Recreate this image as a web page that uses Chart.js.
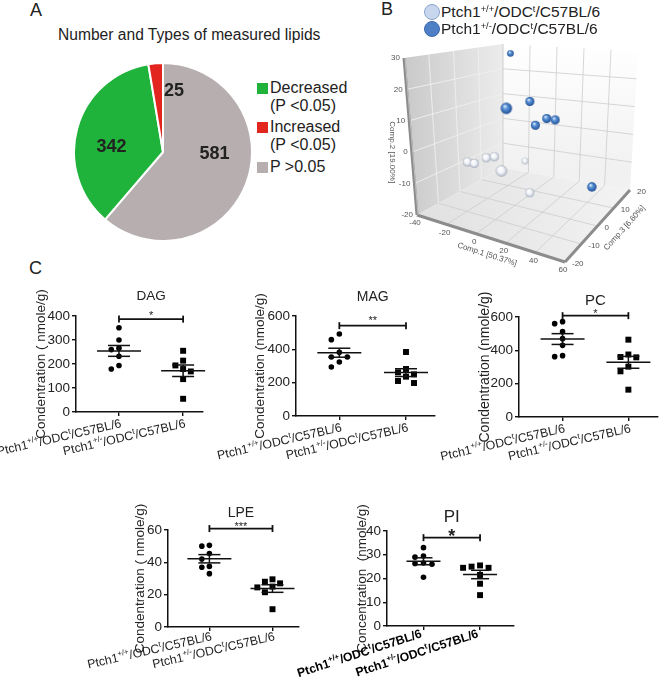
<!DOCTYPE html>
<html lang="en">
<head>
<meta charset="UTF-8">
<title>Lipid profiling figure</title>
<script src="https://cdn.jsdelivr.net/npm/chart.js"></script>
<style>
  body { margin: 0; background: #fff; }
  #fig { position: relative; width: 660px; height: 682px; overflow: hidden; background: #fff;
         font-family: "Liberation Sans", Arial, sans-serif; color: #222; }
  #fig canvas, #fig .t, #fig .sq { position: absolute; }
  #fig .t { white-space: nowrap; line-height: 1; }
  #fig sup { font-size: 60%; vertical-align: 0; position: relative; top: -0.55em; }
</style>
</head>
<body>
<div id="fig"></div>
<script>
// ---- A: number and types of measured lipids
const pieLabels = ['P >0.05', 'Decreased (P <0.05)', 'Increased (P <0.05)'];
const pieCounts = [581, 342, 25];
const pieColors = ['#b7afaf', '#20b33b', '#e2261f'];

// ---- B: PCA scores
const groups = ['Ptch1^{+/+}/ODC^{t}/C57BL/6', 'Ptch1^{+/-}/ODC^{t}/C57BL/6'];
const wtComp1 = [-35, -30, -21, -15, 7, -10, 11];
const wtComp2 = [-9, -9, -6, -5, -3, -11, -15];
const wtComp3 = [0, 0, 0, 0, -12, 12, 0];
const hetComp1 = [-21, 11, 11, 15, 23, 29, 59];
const hetComp2 = [30, 17, 18, 9, 12, 12, -7];
const hetComp3 = [12, 0, -12, 0, 0, 0, -2];
const comp1Ticks = [-40, -20, 0, 20, 40, 60];
const comp2Ticks = [-20, -10, 0, 10, 20, 30];
const comp3Ticks = [-20, -10, 0, 10, 20];

// ---- C: lipid concentrations (nmole/g)
const dagWT = [351, 300, 266, 260, 232, 194, 179];
const dagHet = [255, 214, 194, 179, 169, 137, 55];
const magWT = [492, 458, 382, 354, 354, 324, 294];
const magHet = [384, 282, 262, 250, 236, 210, 198];
const pcWT = [572, 560, 512, 470, 430, 368, 362];
const pcHet = [464, 375, 360, 358, 302, 274, 164];
const lpeWT = [50.5, 50, 45.5, 42, 37.5, 37, 33];
const lpeHet = [29.5, 28, 27, 25, 24.5, 21.5, 11];
const piWT = [33, 29.5, 29, 26.5, 26.3, 26, 20.5];
const piHet = [25.5, 25, 24.5, 24.5, 21.5, 17.8, 13];

const FONT = '"Liberation Sans", Arial, sans-serif';
const fig = document.getElementById('fig');

function supHtml(s) { return s.replace(/\^\{([^}]*)\}/g, '<sup>$1</sup>'); }
function parts(s) {
  return s.split(/(\^\{[^}]*\})/).filter(p => p).map(p =>
    p[0] === '^' ? { t: p.slice(2, -1), sup: true } : { t: p, sup: false });
}
function addText(html, left, top, size, css) {
  const d = document.createElement('div');
  d.className = 't';
  d.innerHTML = html;
  d.style.cssText = `left:${left}px;top:${top}px;font-size:${size}px;` + (css || '');
  fig.appendChild(d);
  return d;
}
function addCanvas(left, top, w, h) {
  const c = document.createElement('canvas');
  c.width = Math.round(w); c.height = Math.round(h);
  c.style.left = Math.round(left) + 'px'; c.style.top = Math.round(top) + 'px';
  fig.appendChild(c);
  return c;
}

// panel letters
addText('A', 30, 1, 18);
addText('B', 381, 0, 18);
addText('C', 29, 259, 18);

// ================= Panel A (pie) =================
addText('Number and Types of measured lipids', 58, 27, 15.6);
const legendOrder = [1, 2, 0];
const legendText = ['P &gt;0.05', 'Decreased<br>(P &lt;0.05)', 'Increased<br>(P &lt;0.05)'];
const legendTop = [79, 118, 158];
legendOrder.forEach((k, i) => {
  const sq = document.createElement('div');
  sq.className = 'sq';
  sq.style.cssText = `left:257px;top:${legendTop[i] + 4}px;width:11px;height:11px;background:${pieColors[k]}`;
  fig.appendChild(sq);
  addText(legendText[k], 270, legendTop[i], 16, 'line-height:18px');
});

const pieCv = addCanvas(71, 60, 184, 184);
new Chart(pieCv, {
  type: 'pie',
  data: {
    labels: pieLabels,
    datasets: [{ data: pieCounts, backgroundColor: pieColors, borderColor: '#fff', borderWidth: 2 }]
  },
  options: {
    responsive: false, animation: false, events: [],
    layout: { padding: 2 },
    plugins: { legend: { display: false }, tooltip: { enabled: false } }
  },
  plugins: [{
    id: 'pieNumbers',
    afterDatasetsDraw(chart) {
      const ctx = chart.ctx;
      ctx.save();
      ctx.font = `bold 18px ${FONT}`;
      ctx.fillStyle = '#222';
      ctx.textBaseline = 'middle';
      chart.getDatasetMeta(0).data.forEach((arc, i) => {
        const p = arc.getProps(['x', 'y', 'startAngle', 'endAngle', 'outerRadius'], true);
        const narrow = p.endAngle - p.startAngle < 0.3;
        // big slices: label a bit toward the slice start, so it sits in the open part
        const ang = narrow ? p.endAngle : p.startAngle + (p.endAngle - p.startAngle) * 0.42;
        const r = p.outerRadius * (narrow ? 0.68 : 0.58);
        ctx.textAlign = narrow ? 'left' : 'center';
        ctx.fillText(String(pieCounts[i]), p.x + Math.cos(ang) * r + (narrow ? 1 : 0), p.y + Math.sin(ang) * r);
      });
      ctx.restore();
    }
  }]
});

// ================= Panel B (3D PCA) =================
const pcaBox = { left: 380, top: 35, w: 280, h: 245 };
// screen corners of the box, key = [comp1 max?][comp2 max?][comp3 max?]
const boxCorners = {
  '000': [37, 180], '100': [185, 227], '101': [250, 155], '001': [123, 133],
  '010': [24, 23], '110': [190, 53], '111': [258, 16], '011': [123, 9]
};
const r1 = [comp1Ticks[0], comp1Ticks[comp1Ticks.length - 1]];
const r2 = [comp2Ticks[0], comp2Ticks[comp2Ticks.length - 1]];
const r3 = [comp3Ticks[0], comp3Ticks[comp3Ticks.length - 1]];

function proj(c1, c2, c3) {
  const u = (c1 - r1[0]) / (r1[1] - r1[0]);
  const v = (c2 - r2[0]) / (r2[1] - r2[0]);
  const w = (c3 - r3[0]) / (r3[1] - r3[0]);
  let x = 0, y = 0;
  for (const a of [0, 1]) for (const b of [0, 1]) for (const c of [0, 1]) {
    const k = (a ? u : 1 - u) * (b ? v : 1 - v) * (c ? w : 1 - w);
    const p = boxCorners['' + a + b + c];
    x += k * p[0]; y += k * p[1];
  }
  return { x, y };
}

const sphereCache = {};
function sphere(dark, r) {
  const key = dark + ':' + r.toFixed(1);
  if (sphereCache[key]) return sphereCache[key];
  const s = Math.ceil(r * 2 + 2);
  const c = document.createElement('canvas');
  c.width = c.height = s;
  const g = c.getContext('2d');
  const m = s / 2;
  const grad = g.createRadialGradient(m - r * 0.3, m - r * 0.4, r * 0.1, m, m, r);
  if (dark) {
    grad.addColorStop(0, '#d6e6fb');
    grad.addColorStop(0.35, '#5d95d8');
    grad.addColorStop(0.85, '#2b60aa');
    grad.addColorStop(1, '#1c457f');
  } else {
    grad.addColorStop(0, '#ffffff');
    grad.addColorStop(0.55, '#eef1f6');
    grad.addColorStop(0.9, '#b8c0cc');
    grad.addColorStop(1, '#959fad');
  }
  g.fillStyle = grad;
  g.beginPath(); g.arc(m, m, r, 0, Math.PI * 2); g.fill();
  sphereCache[key] = c;
  return c;
}
const depthRadius = c3 => 4.5 - c3 * 0.1;

function pcaPoints(c1, c2, c3) {
  return c1.map((v, i) => Object.assign(proj(v, c2[i], c3[i]), { d: c3[i] }));
}

function line(ctx, a, b) { ctx.beginPath(); ctx.moveTo(a.x, a.y); ctx.lineTo(b.x, b.y); ctx.stroke(); }
function quad(ctx, pts, fill) {
  ctx.beginPath();
  pts.forEach((p, i) => i ? ctx.lineTo(p.x, p.y) : ctx.moveTo(p.x, p.y));
  ctx.closePath(); ctx.fillStyle = fill; ctx.fill();
}

const pcaCv = addCanvas(pcaBox.left, pcaBox.top, pcaBox.w, pcaBox.h);
new Chart(pcaCv, {
  type: 'scatter',
  data: {
    datasets: [
      { data: pcaPoints(hetComp1, hetComp2, hetComp3),
        pointStyle: c => sphere(true, depthRadius(c.raw.d)) },
      { data: pcaPoints(wtComp1, wtComp2, wtComp3),
        pointStyle: c => sphere(false, depthRadius(c.raw.d)) }
    ]
  },
  options: {
    responsive: false, animation: false, events: [],
    layout: { padding: 0 },
    plugins: { legend: { display: false }, tooltip: { enabled: false } },
    scales: {
      x: { type: 'linear', min: 0, max: pcaBox.w, display: false },
      y: { type: 'linear', min: 0, max: pcaBox.h, reverse: true, display: false }
    }
  },
  plugins: [{
    id: 'box3d',
    beforeDatasetsDraw(chart) {
      const ctx = chart.ctx;
      ctx.save();
      // walls
      const A = proj(r1[0], r2[0], r3[0]), B = proj(r1[1], r2[0], r3[0]);
      const C = proj(r1[1], r2[0], r3[1]), D = proj(r1[0], r2[0], r3[1]);
      const E = proj(r1[0], r2[1], r3[0]), F = proj(r1[0], r2[1], r3[1]);
      const G = proj(r1[1], r2[1], r3[1]);
      let gr = ctx.createLinearGradient(E.x, 0, F.x, 0);
      gr.addColorStop(0, '#c9c9c9'); gr.addColorStop(1, '#ececec');
      quad(ctx, [A, D, F, E], gr);
      gr = ctx.createLinearGradient(0, F.y, 0, D.y);
      gr.addColorStop(0, '#ffffff'); gr.addColorStop(1, '#f1f1f1');
      quad(ctx, [D, C, G, F], gr);
      gr = ctx.createLinearGradient(A.x, A.y, C.x, D.y);
      gr.addColorStop(0, '#e0e0e0'); gr.addColorStop(1, '#f4f4f4');
      quad(ctx, [A, B, C, D], gr);
      // grids
      ctx.lineWidth = 1;
      ctx.strokeStyle = 'rgba(240,240,240,0.9)';
      comp2Ticks.slice(1, -1).forEach(t => line(ctx, proj(r1[0], t, r3[0]), proj(r1[0], t, r3[1])));
      comp3Ticks.slice(1, -1).forEach(t => line(ctx, proj(r1[0], r2[0], t), proj(r1[0], r2[1], t)));
      ctx.strokeStyle = 'rgba(205,205,205,0.8)';
      comp2Ticks.slice(1, -1).forEach(t => line(ctx, proj(r1[0], t, r3[1]), proj(r1[1], t, r3[1])));
      comp1Ticks.slice(1, -1).forEach(t => line(ctx, proj(t, r2[0], r3[1]), proj(t, r2[1], r3[1])));
      comp1Ticks.slice(1, -1).forEach(t => line(ctx, proj(t, r2[0], r3[0]), proj(t, r2[0], r3[1])));
      comp3Ticks.slice(1, -1).forEach(t => line(ctx, proj(r1[0], r2[0], t), proj(r1[1], r2[0], t)));
      ctx.strokeStyle = '#cfcfcf';
      line(ctx, D, F);
      // axis bars
      ctx.strokeStyle = '#8c8c8c'; ctx.lineWidth = 3;
      line(ctx, A, E); line(ctx, A, B); line(ctx, B, C);
      ctx.strokeStyle = '#bdbdbd'; ctx.lineWidth = 1;
      line(ctx, { x: A.x + 1, y: A.y }, { x: E.x + 1, y: E.y });
      // tick labels
      ctx.font = `8px ${FONT}`;
      ctx.fillStyle = '#555';
      ctx.textBaseline = 'middle';
      ctx.textAlign = 'right';
      comp2Ticks.forEach(t => { const p = proj(r1[0], t, r3[0]); ctx.fillText(String(t), p.x - 4, p.y); });
      ctx.textAlign = 'center';
      comp1Ticks.forEach(t => { const p = proj(t, r2[0], r3[0]); ctx.fillText(String(t), p.x - 2, p.y + 8); });
      ctx.textAlign = 'left';
      comp3Ticks.forEach(t => { const p = proj(r1[1], r2[0], t); ctx.fillText(String(t), p.x + 7, p.y + 2); });
      // axis titles
      const axTitle = (txt, p, ang) => {
        ctx.save(); ctx.translate(p.x, p.y); ctx.rotate(ang);
        ctx.textAlign = 'center'; ctx.fillText(txt, 0, 0); ctx.restore();
      };
      const m2 = proj(r1[0], (r2[0] + r2[1]) / 2 - 5, r3[0]);
      axTitle('Comp.2 [19.00%]', { x: m2.x - 20, y: m2.y }, Math.PI / 2);
      const m1 = proj((r1[0] + r1[1]) / 2, r2[0], r3[0]);
      axTitle('Comp.1 [50.37%]', { x: m1.x - 4, y: m1.y + 16 }, Math.atan2(B.y - A.y, B.x - A.x));
      const m3 = proj(r1[1], r2[0], (r3[0] + r3[1]) / 2);
      axTitle('Comp.3 [6.60%]', { x: m3.x + 27, y: m3.y + 2 }, Math.atan2(C.y - B.y, C.x - B.x));
      ctx.restore();
    }
  }]
});

// B legend
[['#c9d7ee', '#8aa4cf'], ['#4f80c6', '#3a68ad']].forEach((c, i) => {
  const sq = document.createElement('div');
  sq.className = 'sq';
  sq.style.cssText = `left:424px;top:${4 + i * 17}px;width:14px;height:14px;border-radius:50%;background:${c[0]};border:1px solid ${c[1]}`;
  fig.appendChild(sq);
  addText(supHtml(groups[i]), 441, 4 + i * 17, 15.5);
});

// ================= Panel C (dot plots) =================
function mean(a) { return a.reduce((s, v) => s + v, 0) / a.length; }
function sem(a) {
  const m = mean(a);
  return Math.sqrt(a.reduce((s, v) => s + (v - m) * (v - m), 0) / (a.length - 1) / a.length);
}
// simple beeswarm: offsets in units of one point width
function swarm(vals, yTol) {
  const placed = [];
  return vals.map(v => {
    for (const k of [0, -1, 1, -2, 2, -3, 3]) {
      if (placed.every(p => (p.k - k) ** 2 + ((p.v - v) / yTol) ** 2 >= 1)) {
        placed.push({ k, v });
        return k;
      }
    }
    return 0;
  });
}

function richText(ctx, str, x, y, ang, size, weight, color) {
  const ps = parts(str);
  const base = `${weight} ${size}px ${FONT}`;
  const small = `${weight} ${Math.round(size * 0.62)}px ${FONT}`;
  let w = 0;
  ps.forEach(p => { ctx.font = p.sup ? small : base; w += ctx.measureText(p.t).width; });
  ctx.save();
  ctx.translate(x, y); ctx.rotate(ang);
  ctx.fillStyle = color; ctx.textAlign = 'left'; ctx.textBaseline = 'alphabetic';
  let cx = -w;
  ps.forEach(p => {
    ctx.font = p.sup ? small : base;
    ctx.fillText(p.t, cx, p.sup ? -size * 0.42 : 0);
    cx += ctx.measureText(p.t).width;
  });
  ctx.restore();
}

const dotSpecs = [
  { wt: dagWT, het: dagHet, title: 'DAG', titleSize: 13.5, titleUp: 20, yMax: 400, yStep: 100,
    area: [76, 316, 203, 412], xr: [0.33, 2.31], bracket: 387, stars: '*', starSize: 11, starBold: false, starDy: 0,
    yTitle: 'Condentration ( nmole/g)', yTitleOff: 35, yTitleSize: 13.5, meanHalf: 22, semHalf: 11, jit: 0.12,
    lab: [3, 15], labAng: -13, labSize: 12.3, labBold: false },
  { wt: magWT, het: magHet, title: 'MAG', titleSize: 14, titleUp: 19, yMax: 600, yStep: 200,
    area: [296, 316, 435, 416], xr: [0.35, 2.435], bracket: 542, stars: '**', starSize: 11, starBold: false, starDy: -2,
    yTitle: 'Condentration (nmole/g)', yTitleOff: 36, yTitleSize: 13.5, meanHalf: 22, semHalf: 11, jit: 0.12,
    lab: [3, 15], labAng: -13, labSize: 12.3, labBold: false },
  { wt: pcWT, het: pcHet, title: 'PC', titleSize: 15, titleUp: 16, yMax: 600, yStep: 200,
    area: [519, 317, 658, 417], xr: [0.338, 2.45], bracket: 608, stars: '*', starSize: 11, starBold: false, starDy: 1,
    yTitle: 'Condentration (nmole/g)', yTitleOff: 34, yTitleSize: 14, meanHalf: 22, semHalf: 11, jit: 0.12,
    lab: [3, 15], labAng: -13, labSize: 12.3, labBold: false },
  { wt: lpeWT, het: lpeHet, title: 'LPE', titleSize: 14, titleUp: 17, yMax: 60, yStep: 20,
    area: [168, 530, 299, 627], xr: [0.344, 2.42], bracket: 60.9, stars: '***', starSize: 11, starBold: false, starDy: 1,
    yTitle: 'Condentration ( nmole/g)', yTitleOff: 28, yTitleSize: 13.5, meanHalf: 22, semHalf: 11, jit: 0.12,
    lab: [3, 13], labAng: -13, labSize: 12.3, labBold: false },
  { wt: piWT, het: piHet, title: 'PI', titleSize: 17, titleUp: 14, yMax: 40, yStep: 10,
    area: [387, 531, 514, 626], xr: [0.355, 2.6], bracket: 37.2, stars: '*', starSize: 18, starBold: true, starDy: 4,
    yTitle: 'Concentration  (nmole/g)', yTitleOff: 25, yTitleSize: 13.5, meanHalf: 17, semHalf: 9, jit: 0.15,
    lab: [-1, 11], labAng: -18, labSize: 12.2, labBold: true }
];

function drawDeco(chart, s) {
  const { ctx, chartArea: ca, scales: { x, y } } = chart;
  const seg = (x1, y1, x2, y2) => { ctx.beginPath(); ctx.moveTo(x1, y1); ctx.lineTo(x2, y2); ctx.stroke(); };
  ctx.save();
  ctx.strokeStyle = '#111'; ctx.fillStyle = '#222'; ctx.lineWidth = 1.5;
  [s.wt, s.het].forEach((vals, i) => {
    const cx = x.getPixelForValue(i + 1);
    const m = mean(vals), e = sem(vals);
    const ym = y.getPixelForValue(m), yh = y.getPixelForValue(m + e), yl = y.getPixelForValue(m - e);
    seg(cx - s.meanHalf, ym, cx + s.meanHalf, ym);
    seg(cx - s.semHalf, yh, cx + s.semHalf, yh);
    seg(cx - s.semHalf, yl, cx + s.semHalf, yl);
    seg(cx, yh, cx, yl);
  });
  // significance bracket
  const x1 = x.getPixelForValue(1), x2 = x.getPixelForValue(2), yb = y.getPixelForValue(s.bracket);
  ctx.lineWidth = 1.8;
  seg(x1, yb, x2, yb);
  seg(x1, yb - 3.5, x1, yb + 3.5);
  seg(x2, yb - 3.5, x2, yb + 3.5);
  ctx.textAlign = 'center'; ctx.textBaseline = 'alphabetic';
  ctx.font = `${s.starBold ? 'bold ' : ''}${s.starSize}px ${FONT}`;
  ctx.fillText(s.stars, (x1 + x2) / 2, yb + s.starDy);
  // title
  ctx.textBaseline = 'middle';
  ctx.font = `${s.titleSize}px ${FONT}`;
  ctx.fillText(s.title, (x1 + x2) / 2, ca.top - s.titleUp);
  // y title
  ctx.save();
  ctx.translate(ca.left - s.yTitleOff, (ca.top + ca.bottom) / 2);
  ctx.rotate(-Math.PI / 2);
  ctx.font = `${s.yTitleSize}px ${FONT}`;
  ctx.fillText(s.yTitle, 0, 0);
  ctx.restore();
  // category labels
  groups.forEach((g, i) => {
    const cx = x.getPixelForValue(i + 1);
    richText(ctx, g, cx + s.lab[0], ca.bottom + s.lab[1], s.labAng * Math.PI / 180, s.labSize,
      s.labBold ? 'bold' : 'normal', s.labBold ? '#000' : '#222');
  });
  ctx.restore();
}

dotSpecs.forEach((s, n) => {
  const yw = 110, pt = 40, pr = 10, xh = 70;
  const [l, t, r, b] = s.area;
  const cv = addCanvas(l - yw, t - pt, r - l + yw + pr, b - t + pt + xh);
  const tol = s.yMax * 0.065;
  const pts = vals => { const off = swarm(vals, tol); return vals.map((v, i) => ({ y: v, k: off[i] })); };
  const axis = { grid: { drawOnChartArea: false, drawTicks: true, tickLength: 4, color: '#111', lineWidth: 1.4 },
                 border: { display: true, color: '#111', width: 1.5 } };
  new Chart(cv, {
    type: 'scatter',
    data: {
      datasets: [s.wt, s.het].map((vals, i) => ({
        data: pts(vals).map(p => ({ x: i + 1 + p.k * s.jit, y: p.y })),
        pointStyle: i ? 'rect' : 'circle',
        pointRadius: i ? 4.2 : 2.8,
        backgroundColor: '#000', borderWidth: 0
      }))
    },
    options: {
      responsive: false, animation: false, events: [],
      layout: { padding: { top: pt, right: pr, left: 0, bottom: 0 } },
      plugins: { legend: { display: false }, tooltip: { enabled: false } },
      scales: {
        x: Object.assign({
          type: 'linear', min: s.xr[0], max: s.xr[1],
          afterBuildTicks: sc => { sc.ticks = [{ value: 1 }, { value: 2 }]; },
          afterFit: sc => { sc.height = xh; },
          ticks: { display: false }
        }, axis),
        y: Object.assign({
          type: 'linear', min: 0, max: s.yMax,
          afterFit: sc => { sc.width = yw; },
          ticks: { stepSize: s.yStep, padding: 2, color: '#222', font: { size: 13.5, family: FONT } }
        }, axis)
      }
    },
    plugins: [{ id: 'deco' + n, afterDraw: chart => drawDeco(chart, s) }]
  });
});
</script>
</body>
</html>
